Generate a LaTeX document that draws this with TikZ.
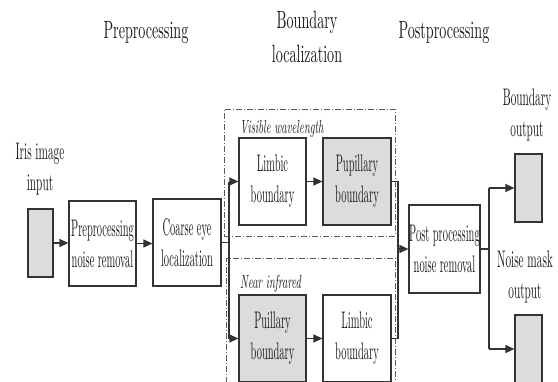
\documentclass[tikz,border=0pt]{standalone}
\usepackage{fontspec}
\newfontfamily\boxfont{lmroman10-regular.otf}[FakeStretch=0.435]
\newfontfamily\lblfont{lmroman10-regular.otf}[FakeStretch=0.47]
\newfontfamily\titlefont{lmroman10-regular.otf}[FakeStretch=0.565]
\newfontfamily\labfont{lmroman10-italic.otf}[FakeStretch=0.553]
\usetikzlibrary{arrows.meta}
\definecolor{boxgray}{HTML}{DCDCDC}
\definecolor{linecol}{HTML}{333333}
\definecolor{txtcol}{HTML}{1A1A1A}
\tikzset{
 blk/.style={draw=linecol,line width=1.2pt,fill=white,inner sep=0pt,align=center,
   font=\boxfont\fontsize{24}{31}\selectfont,text=txtcol},
 gblk/.style={blk,fill=boxgray},
 con/.style={draw=linecol,line width=1.2pt},
 arr/.style={con,-{Triangle[length=9pt,width=8pt]}},
 dd/.style={draw=linecol!80,line width=0.8pt,dash pattern=on 6pt off 2pt on 1pt off 2pt,inner sep=0pt},
 ttl/.style={font=\titlefont\fontsize{25}{34}\selectfont,align=center,inner sep=0pt,text=txtcol},
 lbl/.style={font=\lblfont\fontsize{24}{31}\selectfont,align=center,inner sep=0pt,text=txtcol},
 ital/.style={font=\labfont\fontsize{19}{22}\selectfont,inner sep=0pt,text=txtcol},
}
\begin{document}
\begin{tikzpicture}[x=1pt,y=-1pt]
\useasboundingbox (0,0) rectangle (558,381);
\clip (0,0) rectangle (558,381);
% titles
\node[ttl,anchor=base] (t1) at (146,38) {Preprocessing};
\node[ttl,anchor=base] (t2) at (307,62) {Boundary\\localization};
\node[ttl,anchor=base] (t3) at (444,38) {Postprocessing};
% dash-dot groups
\node[dd,minimum width=171pt,minimum height=127pt] (vis) at (309.5,172.5) {};
\node[dd,minimum width=169pt,minimum height=137pt] (nir) at (310.5,326.5) {};
\node[ital,anchor=base west] (vislab) at (240,133) {Visible wavelength};
\node[ital,anchor=base west] (nirlab) at (240,288) {Near infrared};
% input
\node[lbl,anchor=base] (irl) at (40,190) {Iris image\\input};
\node[gblk,minimum width=25pt,minimum height=68pt] (iris) at (40.5,243) {};
\node[blk,minimum width=67pt,minimum height=85pt] (pre) at (102.5,243.5) {Preprocessing\\noise removal};
\node[blk,minimum width=68pt,minimum height=87pt] (coarse) at (187,242.5) {Coarse eye\\localization};
% boundary localization
\node[blk,minimum width=67pt,minimum height=87pt] (limb1) at (272.5,181.5) {Limbic\\boundary};
\node[gblk,minimum width=68pt,minimum height=87pt] (pup1) at (357,181.5) {Pupillary\\boundary};
\node[gblk,minimum width=67pt,minimum height=87pt] (pup2) at (272.5,338.5) {Puillary\\boundary};
\node[blk,minimum width=68pt,minimum height=87pt] (limb2) at (357,338.5) {Limbic\\boundary};
% postprocessing
\node[blk,minimum width=71pt,minimum height=88pt] (post) at (444.5,249) {Post processing\\noise removal};
\node[lbl,anchor=base] (bol) at (527,136) {Boundary\\output};
\node[gblk,minimum width=27pt,minimum height=68pt] (out1) at (528.5,188) {};
\node[lbl,anchor=base] (nml) at (525,298) {Noise mask\\output};
\node[gblk,minimum width=27pt,minimum height=68pt] (out2) at (528.5,349) {};
% bus coordinates
\coordinate (lbus) at (229,0);
\coordinate (rbus) at (398,0);
\coordinate (obus) at (489,0);
% connectors
\draw[arr] (iris.east) -- (iris.east -| pre.west);
\draw[arr] (pre.east) -- (pre.east -| coarse.west);
\draw[con] (coarse.east) -- (coarse.east -| lbus);
\draw[con] (limb1.west -| lbus) -- (pup2.west -| lbus);
\draw[arr] (limb1.west -| lbus) -- (limb1.west);
\draw[arr] (pup2.west -| lbus) -- (pup2.west);
\draw[arr] (limb1) -- (pup1);
\draw[arr] (pup2) -- (limb2);
\draw[con] (pup1.east) -- (pup1.east -| rbus) -- (limb2.east -| rbus) -- (limb2.east);
\draw[arr] (post.west -| rbus) -- (post.west);
\draw[con] (post.east) -- (post.east -| obus);
\draw[con] (out1.west -| obus) -- (out2.west -| obus);
\draw[arr] (out1.west -| obus) -- (out1.west);
\draw[arr] (out2.west -| obus) -- (out2.west);
\end{tikzpicture}
\end{document}
